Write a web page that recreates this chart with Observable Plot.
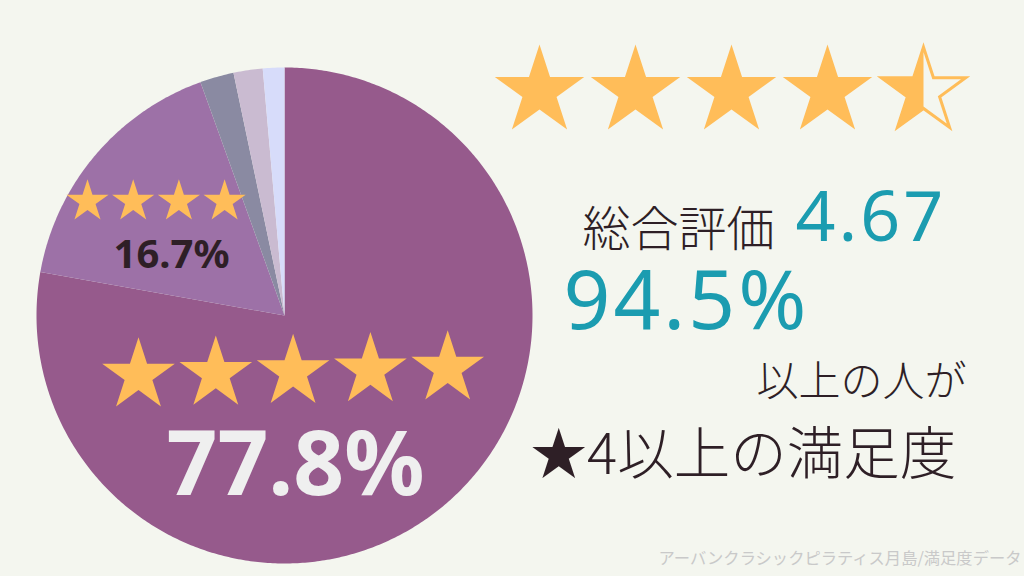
<!DOCTYPE html>
<html>
<head>
<meta charset="utf-8">
<script src="https://cdn.jsdelivr.net/npm/d3@7"></script>
<script src="https://cdn.jsdelivr.net/npm/@observablehq/plot@0.6"></script>
<style>
  html, body { margin: 0; padding: 0; background: #f4f6ef; }
  #chart { width: 1024px; height: 576px; overflow: hidden; }
</style>
</head>
<body>
<div id="chart"></div>
<script>
// ---- data ----
const ratings = ["★5", "★4", "★3", "★2", "★1"];
const starCounts = [5, 4, 3, 2, 1];
const shares = [77.8, 16.7, 2.2, 1.9, 1.4];
const sliceColors = ["#965a8c", "#9d71a7", "#8a8aa2", "#cabbd1", "#d7dcfa"];
const shareLabels = ["77.8%", "16.7%"];
const overallScore = "4.67";
const topStarFill = ["full", "full", "full", "full", "half"];
const satisfied = "94.5%";
const textTitle = "総合評価";
const textLine1 = "以上の人が";
const textLine2 = "★4以上の満足度";
const caption = "アーバンクラシックピラティス月島/満足度データ";

// ---- layout ----
const W = 1024, H = 576;
const cx = 284, cy = 315, R = 248;
const starColor = "#ffbd59";
const darkText = "#2e1f26";
const teal = "#1b9cb0";
const starK = Math.sqrt(Math.PI * 0.8908130915292852); // outer radius per dot r

// pie slices as polygons in x/y scale space
const slices = ratings.map((k, i) => ({key: k, share: shares[i]}));
const arcs = d3.pie().value(d => d.share).sort(null)(slices);
const piePts = [];
arcs.forEach(a => {
  const n = Math.max(3, Math.ceil((a.endAngle - a.startAngle) / 0.01));
  piePts.push({key: a.data.key, x: cx, y: cy});
  for (let j = 0; j <= n; j++) {
    const t = a.startAngle + (a.endAngle - a.startAngle) * j / n;
    piePts.push({key: a.data.key, x: cx + R * Math.sin(t), y: cy - R * Math.cos(t)});
  }
});

// stars inside slices
const pieStars5 = d3.range(starCounts[0]).map(i => ({x: 138 + i * 77.3, y: 375 - i * 1.75}));
const pieStars4 = d3.range(starCounts[1]).map(i => ({x: 87 + i * 45.7, y: 201}));
// top rating stars
const topStars = topStarFill.map((f, i) => ({x: 539 + i * 96, y: 91, fill: f}));
const fullTop = topStars.filter(d => d.fill === "full");
const halfTop = topStars.filter(d => d.fill === "half");

const cjk = "'Noto Sans CJK JP', 'Noto Sans', sans-serif";
const latin = "'Noto Sans', 'Open Sans', sans-serif";

const chart = Plot.plot({
  width: W, height: H,
  margin: 0,
  x: {domain: [0, W], range: [0, W], axis: null},
  y: {domain: [0, H], range: [0, H], axis: null},
  color: {domain: ratings, range: sliceColors},
  style: {background: "#f4f6ef", overflow: "hidden"},
  marks: [
    Plot.line(piePts, {x: "x", y: "y", z: "key", fill: "key", stroke: "none"}),
    Plot.dot(pieStars5, {x: "x", y: "y", symbol: "star", r: 38.2 / starK, fill: starColor, stroke: "none"}),
    Plot.dot(pieStars4, {x: "x", y: "y", symbol: "star", r: 22.2 / starK, fill: starColor, stroke: "none"}),
    Plot.dot(fullTop, {x: "x", y: "y", symbol: "star", r: 47 / starK, fill: starColor, stroke: "none"}),
    Plot.dot(halfTop, {x: "x", y: "y", symbol: "star", r: 47 / starK, fill: starColor, stroke: "none", ariaDescription: "half-fill"}),
    Plot.dot(halfTop, {x: "x", y: "y", symbol: "star", r: 44.3 / starK, fill: "none", stroke: starColor, strokeWidth: 3}),
    Plot.text([shareLabels[1]], {x: 171, y: 267, text: d => d, fontSize: 40, fontWeight: 700, fontFamily: latin, fill: darkText, textAnchor: "middle", lineAnchor: "bottom"}),
    Plot.text([shareLabels[0]], {x: 295, y: 494, text: d => d, fontSize: 89, fontWeight: 700, fontFamily: latin, fill: "#efefef", textAnchor: "middle", lineAnchor: "bottom"}),
    Plot.text([textTitle], {x: 582, y: 245, text: d => d, fontSize: 48, fontWeight: 300, fontFamily: cjk, fill: darkText, textAnchor: "start", lineAnchor: "bottom"}),
    Plot.text([overallScore], {x: 795, y: 240, text: d => d, fontSize: 70, fontWeight: 400, fontFamily: latin, fill: teal, textAnchor: "start", lineAnchor: "bottom", ariaDescription: "spaced"}),
    Plot.text([satisfied], {x: 563, y: 328, text: d => d, fontSize: 82, fontWeight: 400, fontFamily: latin, fill: teal, textAnchor: "start", lineAnchor: "bottom", ariaDescription: "spaced"}),
    Plot.text([textLine1], {x: 966, y: 395, text: d => d, fontSize: 42, fontWeight: 300, fontFamily: cjk, fill: darkText, textAnchor: "end", lineAnchor: "bottom"}),
    Plot.text([textLine2], {x: 530, y: 473, text: d => d, fontSize: 56.5, fontWeight: 300, fontFamily: cjk, fill: darkText, textAnchor: "start", lineAnchor: "bottom"}),
    Plot.text([caption], {x: 1021, y: 563, text: d => d, fontSize: 16.3, fontWeight: 400, fontFamily: cjk, fill: "#c9c9c9", textAnchor: "end", lineAnchor: "bottom"})
  ]
});

// clip the half-filled star to its left half
const svg = d3.select(chart.tagName.toLowerCase() === "svg" ? chart : chart.querySelector("svg"));
const xs = chart.scale ? chart.scale("x") : null;
const ys = chart.scale ? chart.scale("y") : null;
const hx = xs ? xs.apply(halfTop[0].x) : halfTop[0].x;
const hy = ys ? ys.apply(halfTop[0].y) : halfTop[0].y;
svg.append("defs").append("clipPath").attr("id", "halfclip")
  .append("rect").attr("x", hx - 60).attr("y", hy - 60).attr("width", 60).attr("height", 120);
svg.selectAll('g[aria-description="half-fill"]').attr("clip-path", "url(#halfclip)");
svg.selectAll('g[aria-description="spaced"] text').attr("letter-spacing", "3px");

document.getElementById("chart").appendChild(chart);
</script>
</body>
</html>
